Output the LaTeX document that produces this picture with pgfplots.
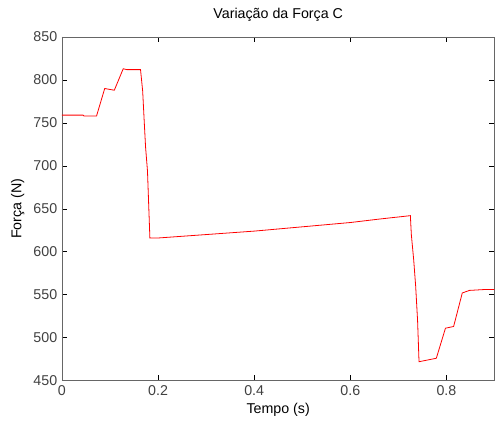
\documentclass[border=0pt]{standalone}
\usepackage{fontspec}
\setmainfont{Liberation Sans}
\usepackage{pgfplots}
\pgfplotsset{compat=1.18}
\begin{document}
\begin{tikzpicture}
\begin{axis}[
  name=ax,
  scale only axis,
  width=324.75pt, height=258pt,
  xmin=0, xmax=0.9, ymin=450, ymax=850,
  xtick={0,0.2,0.4,0.6,0.8},
  ytick={450,500,...,850},
  tick align=inside,
  major tick length=4pt,
  xtick pos=both, ytick pos=both,
  xticklabel pos=lower, yticklabel pos=left,
  /pgf/number format/assume math mode=true,
  ticklabel style={font=\fontsize{10.7}{12}\selectfont, text=black!75},
  label style={font=\fontsize{10.7}{12}\selectfont},
  title style={font=\fontsize{10.7}{12}\selectfont, yshift=2pt},
  title={Variação da Força C},
  xlabel={Tempo (s)},
  ylabel={Força (N)},
  xlabel style={yshift=1pt},
  ylabel style={yshift=0pt},
  axis line style={black!60},
  every tick/.style={black},
  clip=true,
]
\addplot[red, line width=0.6pt] coordinates {
(0.000,759) (0.044,759) (0.046,758) (0.072,758)
(0.089,790) (0.109,788) (0.1275,813) (0.135,812) (0.1635,812)
(0.168,787) (0.171,754) (0.174,722) (0.178,694) (0.183,616)
(0.2,616) (0.3,620) (0.4,624) (0.5,629) (0.6,634) (0.66,638) (0.725,642)
(0.727,620) (0.732,590) (0.736,560) (0.740,520) (0.743,472)
(0.779,476) (0.798,511) (0.815,513) (0.833,552) (0.848,555) (0.879,556) (0.9,556)
};
\end{axis}
\pgfresetboundingbox
\path[use as bounding box] ([xshift=-46.5pt,yshift=-30pt]ax.south west) rectangle ([xshift=0.4pt,yshift=27.75pt]ax.north east);
\end{tikzpicture}
\end{document}
